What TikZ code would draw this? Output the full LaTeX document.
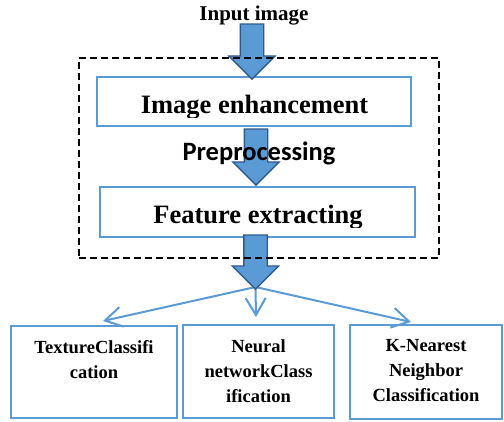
\documentclass[tikz,border=0pt]{standalone}
\usepackage{fontspec}
\setmainfont{Liberation Serif}
\newfontfamily\calibfont{Carlito}
\usetikzlibrary{positioning,shapes.arrows,arrows.meta,calc}
\definecolor{wordblue}{HTML}{5B9BD5}
\definecolor{wordnavy}{HTML}{2F5B8A}
\tikzset{
    box/.style = {
        draw=wordblue,
        shape=rectangle,
        line width=2pt,
        inner sep=0pt
    },
    frame/.style = {
        draw=black,
        shape=rectangle,
        dash pattern=on 7pt off 4pt,
        line width=1.5pt
    },
    blockarrow/.style = {
        draw=wordnavy,
        fill=wordblue,
        single arrow,
        shape border rotate=270,
        single arrow head extend=11.5pt,
        minimum width=45pt,
        inner sep=11pt,
        line width=1.3pt
    },
    splitline/.style = {
        draw=wordblue,
        line width=2pt,
        -{Straight Barb[length=17pt,width=20pt]}
    },
    headtxt/.style = {font=\bfseries\fontsize{21}{24}\selectfont},
    bigtxt/.style = {font=\bfseries\fontsize{26.5}{30}\selectfont, inner sep=0pt},
    steptxt/.style = {font=\calibfont\bfseries\fontsize{26.5}{30}\selectfont, inner sep=0pt},
    classtxt/.style = {font=\bfseries\fontsize{18.5}{25}\selectfont, align=center, inner sep=0pt},
}

\begin{document}
\begin{tikzpicture}[x=1pt, y=-1pt]
    \path[use as bounding box] (0,0) rectangle (504,421);
    \clip (0,0) rectangle (504,421);

    \node[headtxt, anchor=base] (input) at (254,20.5) {Input image};

    \node[box, minimum width=314pt, minimum height=49pt] (enh) at (254,101.5) {};
    \node[box, minimum width=315pt, minimum height=50pt] (feat) at (257.5,212) {};

    \node[box, minimum width=166pt, minimum height=92pt] (texbox) at (94,372) {};
    \node[box, minimum width=151pt, minimum height=93pt] (nnbox) at (258.5,371.5) {};
    \node[box, minimum width=152pt, minimum height=94pt] (knnbox) at (426,372) {};

    \node[blockarrow, minimum height=55pt, anchor=tip] (arrin) at (252,80) {};
    \node[blockarrow, minimum height=56pt, anchor=tip] (arrpre) at (256,186) {};

    % fan out to the three classifiers
    \coordinate (split) at (255.5,287);
    \path[splitline] (split) -- ([xshift=9pt,yshift=4pt]texbox.north);
    \path[splitline] (split) -- ([xshift=-2.5pt,yshift=7pt]nnbox.north);
    \path[splitline] (split) -- ([xshift=-15pt,yshift=2pt]knnbox.north);

    \node[blockarrow, minimum height=54pt, anchor=tip] (arrout) at (255.5,290) {};

    \begin{scope}
        \clip (97,77) rectangle (411,117);
        \node[bigtxt, anchor=base] (enhtxt) at (254.5,113) {Image enhancement};
    \end{scope}
    \begin{scope}
        \clip (100,187) rectangle (415,227);
        \node[bigtxt, anchor=base] (feattxt) at (258,223) {Feature extracting};
    \end{scope}

    \node[steptxt, anchor=base] (pretxt) at (259,160) {Preprocessing};

    \node[frame, minimum width=360pt, minimum height=200pt] (pre) at (259,158) {};

    \node[classtxt, anchor=north] (textxt) at ([yshift=-15pt]texbox.north) {TextureClassifi\\cation};
    \node[classtxt, anchor=north] (nntxt) at ([yshift=-15pt]nnbox.north) {Neural\\networkClass\\ification};
    \node[classtxt, anchor=north] (knntxt) at ([yshift=-15pt]knnbox.north) {K-Nearest\\Neighbor\\Classification};
\end{tikzpicture}
\end{document}
